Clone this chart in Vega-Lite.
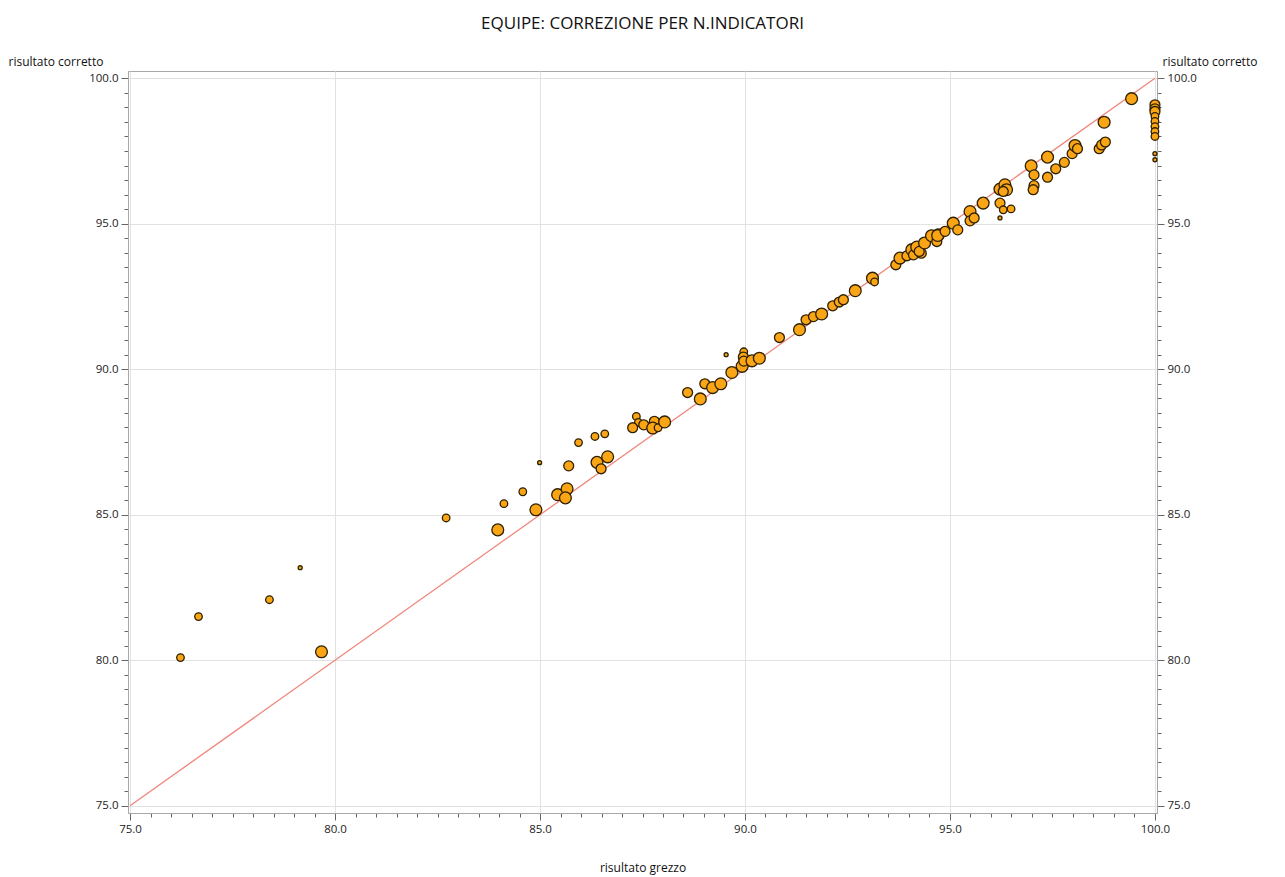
{
  "$schema": "https://vega.github.io/schema/vega-lite/v6.json",
  "autosize": {"type": "none"},
  "width": 1029,
  "height": 742,
  "padding": {"left": 128, "top": 71, "right": 128, "bottom": 64},
  "background": "white",
  "title": {"text": "EQUIPE: CORREZIONE PER N.INDICATORI", "anchor": "middle", "frame": "group", "offset": 22, "fontSize": 17, "fontWeight": "normal", "font": "Open Sans", "color": "#111"},
  "config": {
    "view": {"stroke": "#a8a8a8", "strokeWidth": 1},
    "axis": {"labelFont": "Open Sans", "titleFont": "Open Sans", "labelFontSize": 11.5, "titleFontSize": 12, "titleFontWeight": "normal", "labelColor": "#222", "titleColor": "#111", "domainColor": "#a8a8a8", "tickColor": "#666", "gridColor": "#e2e2e2"}
  },
  "datasets": {
    "diag": [{"grezzo": 75, "corretto": 75}, {"grezzo": 100, "corretto": 100}],
    "pts": [
      {"grezzo": 76.23, "corretto": 80.09, "n": 2},
      {"grezzo": 76.67, "corretto": 81.50, "n": 2},
      {"grezzo": 78.40, "corretto": 82.08, "n": 2},
      {"grezzo": 79.15, "corretto": 83.18, "n": 1},
      {"grezzo": 79.67, "corretto": 80.29, "n": 4},
      {"grezzo": 82.71, "corretto": 84.89, "n": 2},
      {"grezzo": 83.97, "corretto": 84.48, "n": 4},
      {"grezzo": 84.12, "corretto": 85.38, "n": 2},
      {"grezzo": 84.58, "corretto": 85.79, "n": 2},
      {"grezzo": 84.90, "corretto": 85.17, "n": 4},
      {"grezzo": 84.99, "corretto": 86.79, "n": 1},
      {"grezzo": 85.43, "corretto": 85.69, "n": 4},
      {"grezzo": 85.66, "corretto": 85.89, "n": 4},
      {"grezzo": 85.62, "corretto": 85.58, "n": 4},
      {"grezzo": 85.70, "corretto": 86.68, "n": 3},
      {"grezzo": 85.94, "corretto": 87.48, "n": 2},
      {"grezzo": 86.34, "corretto": 87.69, "n": 2},
      {"grezzo": 86.58, "corretto": 87.78, "n": 2},
      {"grezzo": 86.39, "corretto": 86.80, "n": 4},
      {"grezzo": 86.49, "corretto": 86.58, "n": 3},
      {"grezzo": 86.65, "corretto": 86.99, "n": 4},
      {"grezzo": 87.35, "corretto": 88.38, "n": 2},
      {"grezzo": 87.40, "corretto": 88.17, "n": 2},
      {"grezzo": 87.26, "corretto": 87.99, "n": 3},
      {"grezzo": 87.53, "corretto": 88.09, "n": 3},
      {"grezzo": 87.79, "corretto": 88.21, "n": 3},
      {"grezzo": 87.75, "corretto": 87.98, "n": 4},
      {"grezzo": 87.88, "corretto": 87.99, "n": 2},
      {"grezzo": 88.04, "corretto": 88.19, "n": 4},
      {"grezzo": 88.60, "corretto": 89.20, "n": 3},
      {"grezzo": 88.91, "corretto": 88.98, "n": 4},
      {"grezzo": 89.02, "corretto": 89.50, "n": 3},
      {"grezzo": 89.21, "corretto": 89.37, "n": 4},
      {"grezzo": 89.41, "corretto": 89.50, "n": 4},
      {"grezzo": 89.54, "corretto": 90.50, "n": 1},
      {"grezzo": 89.68, "corretto": 89.89, "n": 4},
      {"grezzo": 89.93, "corretto": 90.10, "n": 4},
      {"grezzo": 89.97, "corretto": 90.60, "n": 2},
      {"grezzo": 89.96, "corretto": 90.42, "n": 3},
      {"grezzo": 89.97, "corretto": 90.28, "n": 3},
      {"grezzo": 90.17, "corretto": 90.29, "n": 4},
      {"grezzo": 90.35, "corretto": 90.38, "n": 4},
      {"grezzo": 90.84, "corretto": 91.09, "n": 3},
      {"grezzo": 91.33, "corretto": 91.36, "n": 4},
      {"grezzo": 91.49, "corretto": 91.70, "n": 3},
      {"grezzo": 91.67, "corretto": 91.81, "n": 3},
      {"grezzo": 91.87, "corretto": 91.90, "n": 4},
      {"grezzo": 92.14, "corretto": 92.18, "n": 3},
      {"grezzo": 92.30, "corretto": 92.31, "n": 3},
      {"grezzo": 92.40, "corretto": 92.39, "n": 3},
      {"grezzo": 92.69, "corretto": 92.70, "n": 4},
      {"grezzo": 93.11, "corretto": 93.13, "n": 4},
      {"grezzo": 93.16, "corretto": 93.00, "n": 2},
      {"grezzo": 93.68, "corretto": 93.59, "n": 3},
      {"grezzo": 93.78, "corretto": 93.82, "n": 4},
      {"grezzo": 93.95, "corretto": 93.90, "n": 3},
      {"grezzo": 94.07, "corretto": 94.11, "n": 4},
      {"grezzo": 94.11, "corretto": 93.93, "n": 3},
      {"grezzo": 94.19, "corretto": 94.20, "n": 4},
      {"grezzo": 94.30, "corretto": 93.99, "n": 3},
      {"grezzo": 94.25, "corretto": 94.05, "n": 3},
      {"grezzo": 94.38, "corretto": 94.34, "n": 4},
      {"grezzo": 94.55, "corretto": 94.59, "n": 4},
      {"grezzo": 94.68, "corretto": 94.39, "n": 3},
      {"grezzo": 94.72, "corretto": 94.62, "n": 4},
      {"grezzo": 94.70, "corretto": 94.60, "n": 4},
      {"grezzo": 94.88, "corretto": 94.74, "n": 3},
      {"grezzo": 95.08, "corretto": 95.02, "n": 4},
      {"grezzo": 95.19, "corretto": 94.79, "n": 3},
      {"grezzo": 95.49, "corretto": 95.42, "n": 4},
      {"grezzo": 95.49, "corretto": 95.10, "n": 3},
      {"grezzo": 95.59, "corretto": 95.20, "n": 3},
      {"grezzo": 95.81, "corretto": 95.71, "n": 4},
      {"grezzo": 96.22, "corretto": 95.71, "n": 3},
      {"grezzo": 96.30, "corretto": 95.48, "n": 2},
      {"grezzo": 96.49, "corretto": 95.51, "n": 2},
      {"grezzo": 96.22, "corretto": 95.20, "n": 1},
      {"grezzo": 96.22, "corretto": 96.19, "n": 4},
      {"grezzo": 96.34, "corretto": 96.34, "n": 4},
      {"grezzo": 96.38, "corretto": 96.17, "n": 4},
      {"grezzo": 96.30, "corretto": 96.11, "n": 3},
      {"grezzo": 96.98, "corretto": 96.99, "n": 4},
      {"grezzo": 97.05, "corretto": 96.68, "n": 3},
      {"grezzo": 97.05, "corretto": 96.31, "n": 3},
      {"grezzo": 97.03, "corretto": 96.17, "n": 3},
      {"grezzo": 97.38, "corretto": 97.29, "n": 4},
      {"grezzo": 97.38, "corretto": 96.60, "n": 3},
      {"grezzo": 97.58, "corretto": 96.89, "n": 3},
      {"grezzo": 97.79, "corretto": 97.11, "n": 3},
      {"grezzo": 97.98, "corretto": 97.41, "n": 3},
      {"grezzo": 98.05, "corretto": 97.69, "n": 4},
      {"grezzo": 98.11, "corretto": 97.58, "n": 3},
      {"grezzo": 98.64, "corretto": 97.58, "n": 3},
      {"grezzo": 98.70, "corretto": 97.71, "n": 3},
      {"grezzo": 98.79, "corretto": 97.81, "n": 3},
      {"grezzo": 98.76, "corretto": 98.49, "n": 4},
      {"grezzo": 99.43, "corretto": 99.30, "n": 4},
      {"grezzo": 100, "corretto": 99.09, "n": 3},
      {"grezzo": 100, "corretto": 98.95, "n": 3},
      {"grezzo": 100, "corretto": 98.86, "n": 3},
      {"grezzo": 100, "corretto": 98.69, "n": 2},
      {"grezzo": 100, "corretto": 98.52, "n": 2},
      {"grezzo": 100, "corretto": 98.34, "n": 2},
      {"grezzo": 100, "corretto": 98.17, "n": 2},
      {"grezzo": 100, "corretto": 98.00, "n": 2},
      {"grezzo": 100, "corretto": 97.41, "n": 1},
      {"grezzo": 100, "corretto": 97.20, "n": 1}
    ]
  },
  "encoding": {
    "x": {"field": "grezzo", "type": "quantitative",
      "scale": {"domain": [74.95, 100.05], "nice": false, "zero": false},
      "axis": {"title": "risultato grezzo", "titleY": 58, "titleBaseline": "alphabetic", "values": [75,75.5,76,76.5,77,77.5,78,78.5,79,79.5,80,80.5,81,81.5,82,82.5,83,83.5,84,84.5,85,85.5,86,86.5,87,87.5,88,88.5,89,89.5,90,90.5,91,91.5,92,92.5,93,93.5,94,94.5,95,95.5,96,96.5,97,97.5,98,98.5,99,99.5,100],
        "labelExpr": "datum.value % 5 === 0 ? format(datum.value, '.1f') : ''",
        "tickSize": {"condition": {"test": "datum.value % 5 === 0", "value": 7}, "value": 4},
        "gridOpacity": {"condition": {"test": "datum.value % 5 === 0", "value": 1}, "value": 0},
        "grid": true, "labelPadding": 3, "labelOverlap": false, "labelFlush": false}}
  },
  "layer": [
    {
      "data": {"name": "diag"},
      "mark": {"type": "line", "color": "#f0857a", "strokeWidth": 1.3},
      "encoding": {
        "y": {"field": "corretto", "type": "quantitative",
          "scale": {"domain": [74.75, 100.25], "nice": false, "zero": false},
          "axis": {"orient": "left", "title": "risultato corretto", "titleAngle": 0, "titleAlign": "left", "titleBaseline": "alphabetic", "titleX": -120, "titleY": -6,
            "values": [75,75.5,76,76.5,77,77.5,78,78.5,79,79.5,80,80.5,81,81.5,82,82.5,83,83.5,84,84.5,85,85.5,86,86.5,87,87.5,88,88.5,89,89.5,90,90.5,91,91.5,92,92.5,93,93.5,94,94.5,95,95.5,96,96.5,97,97.5,98,98.5,99,99.5,100],
            "labelExpr": "datum.value % 5 === 0 ? format(datum.value, '.1f') : ''",
            "tickSize": {"condition": {"test": "datum.value % 5 === 0", "value": 7}, "value": 4},
            "gridOpacity": {"condition": {"test": "datum.value % 5 === 0", "value": 1}, "value": 0},
            "grid": true, "labelPadding": 3, "labelOverlap": false, "labelFlush": false}}
      }
    },
    {
      "data": {"name": "pts"},
      "mark": {"type": "point", "shape": "circle", "filled": true, "fill": "#f9a516", "stroke": "#2e2000", "strokeWidth": 1.3, "opacity": 1},
      "encoding": {
        "y": {"field": "corretto", "type": "quantitative",
          "scale": {"domain": [74.75, 100.25], "nice": false, "zero": false},
          "axis": {"orient": "right", "title": "risultato corretto", "titleAngle": 0, "titleAlign": "left", "titleBaseline": "alphabetic", "titleX": 5, "titleY": -6,
            "values": [75,75.5,76,76.5,77,77.5,78,78.5,79,79.5,80,80.5,81,81.5,82,82.5,83,83.5,84,84.5,85,85.5,86,86.5,87,87.5,88,88.5,89,89.5,90,90.5,91,91.5,92,92.5,93,93.5,94,94.5,95,95.5,96,96.5,97,97.5,98,98.5,99,99.5,100],
            "labelExpr": "datum.value % 5 === 0 ? format(datum.value, '.1f') : ''",
            "tickSize": {"condition": {"test": "datum.value % 5 === 0", "value": 7}, "value": 4},
            "grid": false, "labelPadding": 3, "labelOverlap": false, "labelFlush": false}},
        "size": {"field": "n", "type": "quantitative", "scale": {"domain": [1, 4], "range": [16, 140]}, "legend": null}
      }
    }
  ],
  "resolve": {"axis": {"y": "independent"}}
}
